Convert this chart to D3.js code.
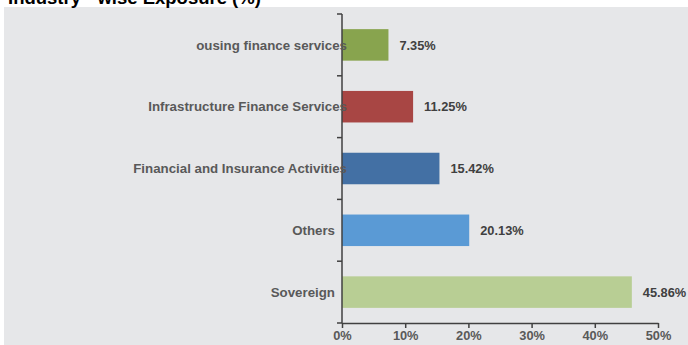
<!DOCTYPE html>
<html>
<head>
<meta charset="utf-8">
<script src="https://cdn.jsdelivr.net/npm/d3@7"></script>
<style>
  html, body { margin: 0; padding: 0; background: #ffffff; }
  svg { display: block; }
  text { font-family: "Liberation Sans", Arial, sans-serif; font-weight: bold; }
</style>
</head>
<body>
<svg id="chart" width="688" height="345"></svg>
<script>
// Industry-wise exposure, top to bottom
const categories = ["ousing finance services", "Infrastructure Finance Services", "Financial and Insurance Activities", "Others", "Sovereign"];
const exposure = [7.35, 11.25, 15.42, 20.13, 45.86];
const barColors = ["#88A44E", "#A84644", "#4370A4", "#5A9AD5", "#B8CE94"];
const xTicks = [0, 10, 20, 30, 40, 50];
const title = "Industry - wise Exposure (%)";

const W = 688, H = 345;
const svg = d3.select("#chart");

// panel background
svg.append("rect").attr("x", 4).attr("y", 7).attr("width", W - 4).attr("height", H - 7)
  .attr("fill", "#E6E7E9");

// title sits above the panel, partly outside the frame
svg.append("text").attr("x", 8).attr("y", 4)
  .attr("font-size", 18.5).attr("fill", "#000")
  .text(title);

const plot = { left: 342, right: 658, top: 14, bottom: 323 };

const x = d3.scaleLinear().domain([0, 50]).range([plot.left, plot.right]);
const y = d3.scaleBand().domain(categories).range([plot.top, plot.bottom])
  .paddingInner(0.49).paddingOuter(0.245);

// bars
svg.append("g").selectAll("rect").data(categories).join("rect")
  .attr("x", x(0))
  .attr("y", d => y(d))
  .attr("width", (d, i) => x(exposure[i]) - x(0))
  .attr("height", y.bandwidth())
  .attr("fill", (d, i) => barColors[i]);

// value labels
svg.append("g").selectAll("text").data(categories).join("text")
  .attr("x", (d, i) => x(exposure[i]) + 11)
  .attr("y", d => y(d) + y.bandwidth() / 2)
  .attr("dy", "0.36em")
  .attr("font-size", 12.8).attr("fill", "#404040")
  .text((d, i) => exposure[i].toFixed(2) + "%");

// x axis
const xAxis = d3.axisBottom(x).tickValues(xTicks).tickFormat(d => d + "%").tickSize(5).tickSizeOuter(0);
const gx = svg.append("g").attr("transform", `translate(0,${plot.bottom})`).call(xAxis);
gx.select(".domain").attr("stroke", "#404040").attr("stroke-width", 1.5);
gx.selectAll(".tick line").attr("stroke", "#404040").attr("stroke-width", 1.5);
gx.selectAll(".tick text").attr("font-size", 12.8).attr("fill", "#595959")
  .attr("font-family", "Liberation Sans, Arial, sans-serif").attr("font-weight", "bold")
  .attr("y", 8).attr("dy", "0.71em");

// y axis line with ticks on band boundaries
const boundaries = d3.range(categories.length + 1).map(i => plot.top + i * (plot.bottom - plot.top) / categories.length);
const gy = svg.append("g");
gy.append("line").attr("x1", plot.left).attr("x2", plot.left)
  .attr("y1", plot.top).attr("y2", plot.bottom)
  .attr("stroke", "#404040").attr("stroke-width", 1.5);
gy.selectAll("line.tk").data(boundaries).join("line").attr("class", "tk")
  .attr("x1", plot.left - 5).attr("x2", plot.left)
  .attr("y1", d => d).attr("y2", d => d)
  .attr("stroke", "#404040").attr("stroke-width", 1.5);

// category labels (long names run over the axis)
const lbl = svg.append("g").selectAll("text").data(categories).join("text")
  .attr("y", d => y(d) + y.bandwidth() / 2)
  .attr("dy", "0.36em")
  .attr("text-anchor", "end")
  .attr("font-size", 13.3).attr("fill", "#595959")
  .text(d => d);
lbl.attr("x", function () {
  return this.getComputedTextLength() > 100 ? plot.left + 5 : plot.left - 7;
});
</script>
</body>
</html>
